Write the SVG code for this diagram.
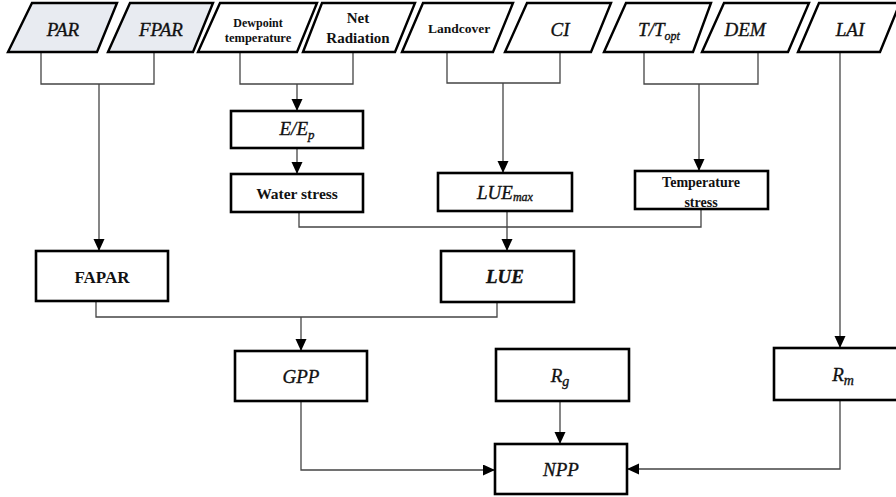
<svg xmlns="http://www.w3.org/2000/svg" width="896" height="497" viewBox="0 0 896 497">
<defs>
<marker id="arr" markerUnits="userSpaceOnUse" markerWidth="12" markerHeight="12" refX="12" refY="5.5" orient="auto">
<path d="M0,0 L12,5.5 L0,11 z" fill="#000"/>
</marker>
<style>
.para{fill:#fff;stroke:#000;stroke-width:2.4;stroke-linejoin:miter}
.grey{fill:#e8ebf1}
.box{fill:#fff;stroke:#000;stroke-width:2.6}
.c{fill:none;stroke:#444;stroke-width:1.3}
.a{marker-end:url(#arr)}
text{fill:#111;text-anchor:middle}
.it{font-style:italic;font-size:19px;stroke:#111;stroke-width:0.35}
.bd{font-weight:bold}
</style>
</defs>
<rect width="896" height="497" fill="#fff"/>

<g id="connectors">
<path class="c" d="M41,52 V84 H154 V52"/>
<path class="c a" d="M99,84 V251"/>
<path class="c" d="M240,52 V84 H353 V52"/>
<path class="c a" d="M297,84 V111"/>
<path class="c a" d="M297,148 V174"/>
<path class="c" d="M447,52 V83 H560 V52"/>
<path class="c a" d="M503,83 V173"/>
<path class="c" d="M644,52 V84 H758 V52"/>
<path class="c a" d="M699,84 V171"/>
<path class="c a" d="M840,52 V348"/>
<path class="c" d="M299,212 V227 H701 V209"/>
<path class="c a" d="M507,211 V251"/>
<path class="c" d="M96,301 V317 H497 V302"/>
<path class="c a" d="M301,317 V351"/>
<path class="c a" d="M301,401 V470 H495"/>
<path class="c a" d="M560,401 V444"/>
<path class="c a" d="M840,400 V469 H627"/>
</g>

<g font-family="'Liberation Serif', 'DejaVu Serif', serif">
<g id="PAR"><polygon class="para grey" points="8,52 32,3 117,3 97,52"/><text class="it" x="63" y="36">PAR</text></g>
<g id="FPAR"><polygon class="para grey" points="108,52 130,3 213,3 193,52"/><text class="it" x="161" y="36">FPAR</text></g>
<g id="Dewpoint"><polygon class="para" points="198,52 220,3 317,3 297,52"/><text class="bd" font-size="12" x="258" y="27">Dewpoint</text><text class="bd" font-size="12.5" x="258" y="42">temperature</text></g>
<g id="NetRadiation"><polygon class="para" points="303,52 322,3 415,3 395,52"/><text class="bd" font-size="15" x="358" y="23">Net</text><text class="bd" font-size="15" x="358" y="43">Radiation</text></g>
<g id="Landcover"><polygon class="para" points="402,52 423,3 513,3 493,52"/><text class="bd" font-size="13.5" x="459" y="33">Landcover</text></g>
<g id="CI"><polygon class="para" points="505,52 527,3 611,3 591,52"/><text class="it" x="560" y="36">CI</text></g>
<g id="TTopt"><polygon class="para" points="604,52 626,3 711,3 693,52"/><text class="it" x="659" y="36">T/T<tspan font-size="12" dy="4">opt</tspan></text></g>
<g id="DEM"><polygon class="para" points="702,52 724,3 809,3 788,52"/><text class="it" x="745" y="36">DEM</text></g>
<g id="LAI"><polygon class="para" points="798,52 819,3 900,3 880,52"/><text class="it" x="850" y="36">LAI</text></g>

<g id="EEp"><rect class="box" x="231" y="111" width="132" height="37"/><text class="it" x="297" y="135">E/E<tspan font-size="13" dy="4">p</tspan></text></g>
<g id="WaterStress"><rect class="box" x="231" y="174" width="132" height="38"/><text class="bd" font-size="15.5" x="297" y="199">Water stress</text></g>
<g id="LUEmax"><rect class="box" x="438" y="173" width="134" height="38"/><text class="it" x="505" y="199">LUE<tspan font-size="12" dy="2">max</tspan></text></g>
<g id="TempStress"><rect class="box" x="635" y="171" width="133" height="38"/><text class="bd" font-size="14" x="701" y="187">Temperature</text><text class="bd" font-size="14" x="701" y="207">stress</text></g>
<g id="FAPAR"><rect class="box" x="36" y="251" width="132" height="50"/><text class="bd" font-size="17" x="102" y="283">FAPAR</text></g>
<g id="LUE"><rect class="box" x="441" y="251" width="133" height="51"/><text class="it bd" x="505" y="283">LUE</text></g>
<g id="GPP"><rect class="box" x="235" y="351" width="132" height="50"/><text class="it" font-size="21" x="301" y="383">GPP</text></g>
<g id="Rg"><rect class="box" x="496" y="349" width="133" height="52"/><text class="it" font-size="21" x="560" y="382">R<tspan font-size="14" dy="4">g</tspan></text></g>
<g id="Rm"><rect class="box" x="774" y="348" width="130" height="52"/><text class="it" font-size="21" x="843" y="381">R<tspan font-size="14" dy="4">m</tspan></text></g>
<g id="NPP"><rect class="box" x="495" y="444" width="132" height="50"/><text class="it" font-size="21" x="561" y="476">NPP</text></g>
</g>
</svg>
